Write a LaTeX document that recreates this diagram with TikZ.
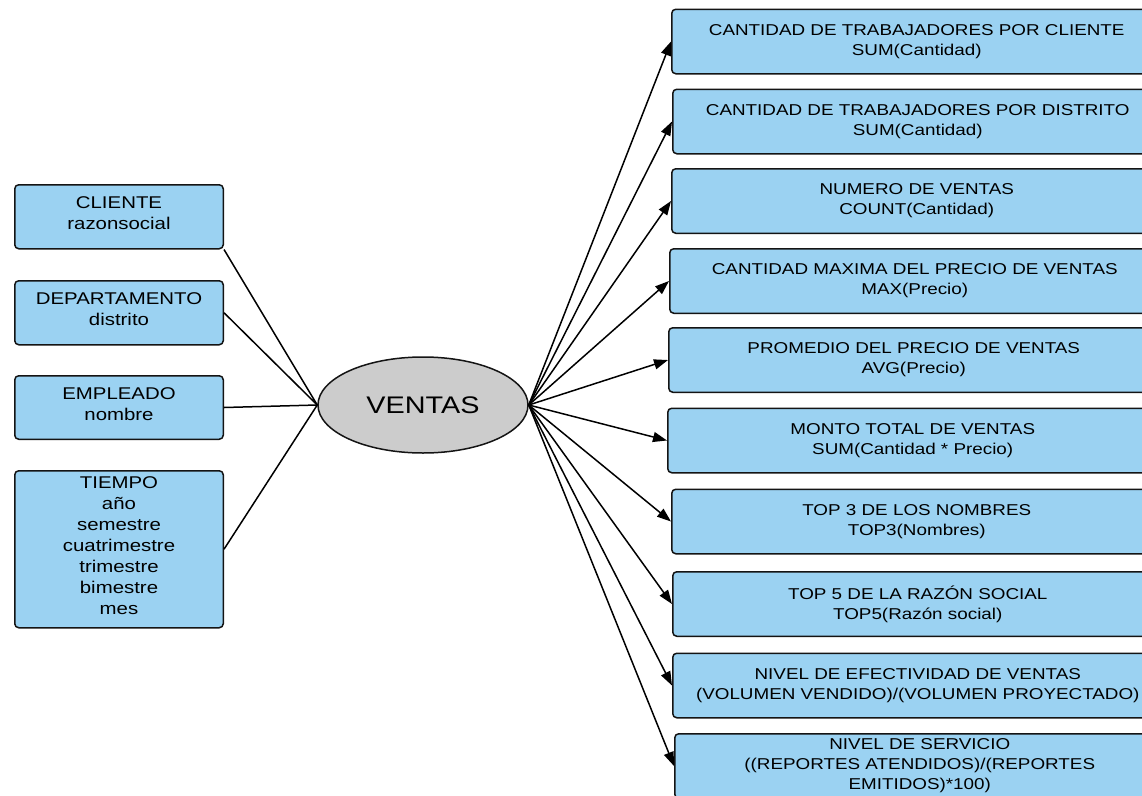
\documentclass[tikz,border=0pt]{standalone}
\usepackage{fontspec}
\setmainfont{Liberation Sans}[FakeStretch=1.2]
\usetikzlibrary{shapes.geometric,arrows.meta}
\definecolor{boxblue}{RGB}{155,210,242}
\definecolor{hubgray}{RGB}{204,204,204}
\definecolor{edgeline}{RGB}{20,20,20}

\begin{document}
\begin{tikzpicture}[x=1pt,y=-1pt,
  dimbox/.style={draw=edgeline, line width=1.5pt, fill=boxblue, rounded corners=4pt,
    anchor=north west, minimum width=208.5pt, inner sep=0pt, align=center,
    text depth=6.5pt, font=\fontsize{17}{21}\selectfont},
  factbox/.style={draw=edgeline, line width=1.5pt, fill=boxblue, rounded corners=4pt,
    anchor=north west, minimum width=490pt, minimum height=64.5pt, inner sep=0pt,
    align=center, font=\fontsize{15.7}{20}\selectfont},
  hub/.style={ellipse, draw=edgeline, line width=1.5pt, fill=hubgray,
    minimum width=210pt, minimum height=96pt, inner sep=0pt,
    font=\fontsize{24}{28}\selectfont},
  link/.style={line width=1.5pt, draw=black},
  arrowlink/.style={link, -{Triangle[length=14pt,width=10pt]}}
]
\useasboundingbox (0,0) rectangle (1142,795);
\clip (0,0) rectangle (1142,795);

% central fact
\node[hub] (ventas) at (423,405) {VENTAS};

% dimensions
\node[dimbox, minimum height=64pt]   (cliente)  at (14,184) {CLIENTE\\razonsocial};
\node[dimbox, minimum height=64pt]   (depto)    at (14,280) {DEPARTAMENTO\\distrito};
\node[dimbox, minimum height=63.5pt] (empleado) at (14,375) {EMPLEADO\\nombre};
\node[dimbox, minimum height=157pt]  (tiempo)   at (14,470)
  {TIEMPO\\año\\semestre\\cuatrimestre\\trimestre\\bimestre\\mes};

% measures
\node[factbox] (m1)  at (671,8.5)   {CANTIDAD DE TRABAJADORES POR CLIENTE\\SUM(Cantidad)};
\node[factbox] (m2)  at (672,88.5)  {CANTIDAD DE TRABAJADORES POR DISTRITO\\SUM(Cantidad)};
\node[factbox] (m3)  at (671,168)   {NUMERO DE VENTAS\\COUNT(Cantidad)};
\node[factbox] (m4)  at (669,248)   {CANTIDAD MAXIMA DEL PRECIO DE VENTAS\\MAX(Precio)};
\node[factbox] (m5)  at (668,327)   {PROMEDIO DEL PRECIO DE VENTAS\\AVG(Precio)};
\node[factbox] (m6)  at (667,407.5) {MONTO TOTAL DE VENTAS\\SUM(Cantidad * Precio)};
\node[factbox] (m7)  at (671,488.5) {TOP 3 DE LOS NOMBRES\\TOP3(Nombres)};
\node[factbox] (m8)  at (672,571)   {TOP 5 DE LA RAZÓN SOCIAL\\TOP5(Razón social)};
\node[factbox] (m9)  at (672,652.5) {NIVEL DE EFECTIVIDAD DE VENTAS\\(VOLUMEN VENDIDO)/(VOLUMEN PROYECTADO)};
\node[factbox] (m10) at (674,733)   {NIVEL DE SERVICIO\\((REPORTES ATENDIDOS)/(REPORTES\\EMITIDOS)*100)};

% dimension links
\draw[link] (cliente.south east) -- (ventas.west);
\draw[link] (depto.east) -- (ventas.west);
\draw[link] (empleado.east) -- (ventas.west);
\draw[link] (tiempo.east) -- (ventas.west);

% measure arrows
\foreach \m in {m1,m2,m3,m4,m5,m6,m7,m8,m9,m10}
  \draw[arrowlink] (ventas.east) -- (\m.west);
\end{tikzpicture}
\end{document}
